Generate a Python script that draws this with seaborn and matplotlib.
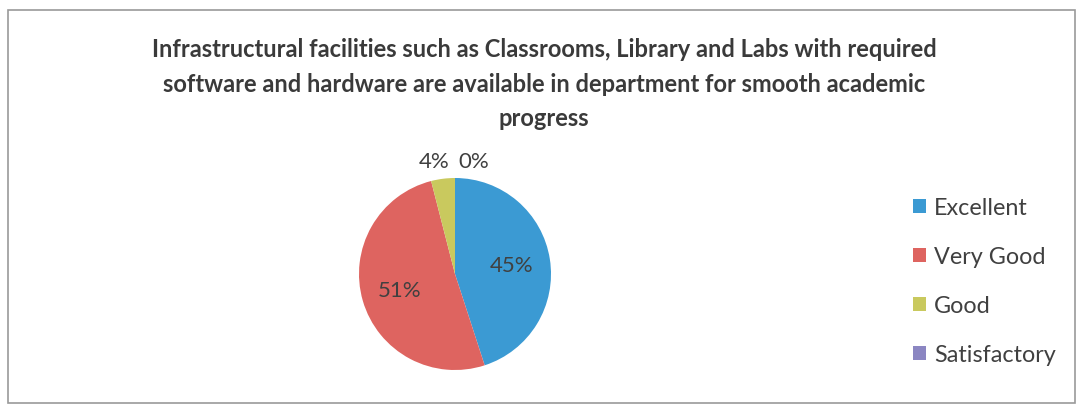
import numpy as np
import seaborn as sns
import matplotlib.pyplot as plt
from matplotlib.patches import Patch, Rectangle

OUTPUT_IMAGE = 'out.png'

TITLE = ('Infrastructural facilities such as Classrooms, Library and Labs with required\n'
         'software and hardware are available in department for smooth academic\n'
         'progress')
categories = ['Excellent', 'Very Good', 'Good', 'Satisfactory']
values = [45, 51, 4, 0]
pct_labels = ['45%', '51%', '4%', '0%']
colors = sns.color_palette(['#3b9ad3', '#de6460', '#c9c95e', '#8b86c2'])

sns.set_theme(style='white')
plt.rcParams['font.family'] = ['Lato', 'DejaVu Sans']

fig = plt.figure(figsize=(10.79, 4.14), dpi=100)
W, H = 1079, 414

# outer chart border
fig.patches.append(Rectangle((8 / W, 10 / H), 1067 / W, 393 / H, transform=fig.transFigure,
                             fill=False, edgecolor='#9a9a9a', linewidth=1.2))

fig.text(544 / W, 1 - 84 / H, TITLE, ha='center', va='center', fontsize=17,
         fontweight='bold', color='#3a3a3a', linespacing=1.6)

# pie centred at (455, 275), radius 96 px
cx, cy, r = 455, 275, 96
ax = fig.add_axes([(cx - r) / W, (H - cy - r) / H, 2 * r / W, 2 * r / H])
wedges, _ = ax.pie(values, colors=colors, startangle=90, counterclock=False,
                   radius=1.0, wedgeprops=dict(linewidth=0))
ax.set_xlim(-1, 1)
ax.set_ylim(-1, 1)
ax.axis('off')

# data labels
total = sum(values)
cum = 0
for i, v in enumerate(values):
    mid = 90 - 360 * (cum + v / 2) / total
    cum += v
    t = np.deg2rad(mid)
    if v / total > 0.1:
        d = 0.6
        ax.text(d * np.cos(t), d * np.sin(t), pct_labels[i], ha='center', va='center',
                fontsize=16, color='#404040', clip_on=False)
    else:
        ha = 'right' if i == 2 else 'left'
        dx = 0.1 if i == 2 else 0.03
        ax.text(1.25 * np.cos(t) + dx, 1.18, pct_labels[i], ha=ha, va='center',
                fontsize=16, color='#404040', clip_on=False)

handles = [Patch(facecolor=c, edgecolor='none') for c in colors]
fig.legend(handles, categories, loc='center left', bbox_to_anchor=(892 / W, 1 - 282 / H),
           frameon=False, fontsize=16.8, handlelength=0.55, handleheight=0.55,
           handletextpad=0.35, labelspacing=1.2, labelcolor='#404040')

plt.savefig(OUTPUT_IMAGE, dpi=100)
